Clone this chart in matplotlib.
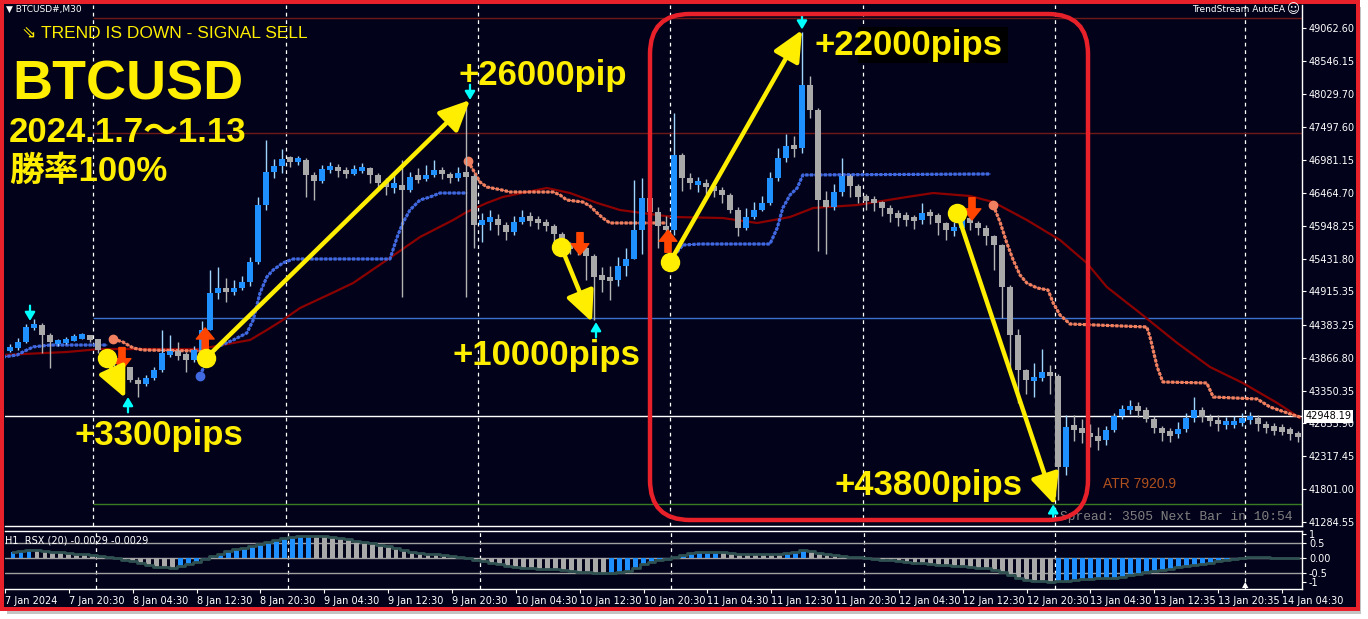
import numpy as np
import matplotlib
matplotlib.use('Agg')
import matplotlib.pyplot as plt
from matplotlib.patches import Rectangle, FancyBboxPatch

plt.rcParams['font.family'] = ['DejaVu Sans', 'Noto Sans CJK JP']

W, H = 1368, 619
BG = '#02031a'
YEL = '#ffee00'
BOLD = ['Liberation Sans', 'Noto Sans CJK JP', 'DejaVu Sans']

# hourly bars, x = hours after 7 Jan 20:30 (first bar at -7)
hours = np.arange(-7, 155)
closes = [44020, 44120, 44350, 44390, 44230, 44120, 44120, 44150, 44200, 44210,
          44160, 43990, 43870, 43770, 43720, 43520, 43460, 43550, 43680, 43940,
          43940, 43930, 43830, 43990, 44310, 44890, 44970, 44900, 44970, 45060,
          45380, 46280, 46800, 46890, 47000, 46980, 46980, 46750, 46650, 46840,
          46870, 46810, 46780, 46830, 46860, 46750, 46620, 46570, 46590, 46510,
          46720, 46690, 46750, 46830, 46760, 46700, 46780, 46730, 45960, 46040,
          46050, 45960, 45850, 46010, 46090, 46040, 46010, 45950, 45820, 45630,
          45610, 45600, 45470, 45140, 45130, 45090, 45310, 45430, 45880, 46390,
          46170, 45940, 45880, 47060, 46700, 46620, 46620, 46560, 46510, 46430,
          46200, 45910, 46090, 46200, 46310, 46700, 47020, 47200, 47170, 48160,
          47770, 46350, 46240, 46480, 46730, 46570, 46400, 46350, 46320, 46230,
          46130, 46090, 46070, 46040, 46150, 46120, 45990, 45880, 45910, 46070,
          45990, 45910, 45790, 45650, 44980, 44230, 43680, 43520, 43550, 43640,
          43580, 42150, 42780, 42760, 42680, 42620, 42570, 42730, 42950, 43060,
          43090, 43050, 42900, 42760, 42680, 42670, 42750, 42920, 43050, 42940,
          42870, 42840, 42840, 42840, 42920, 42920, 42830, 42760, 42750, 42730,
          42680, 42620]
highs = [44080, 44180, 44400, 44480, 44420, 44260, 44170, 44200, 44250, 44260,
         44230, 44170, 44000, 43880, 43790, 43730, 43560, 43600, 43720, 44300,
         44220, 44120, 43960, 44060, 44450, 45250, 45300, 45120, 45100, 45150,
         45450, 46400, 47300, 47000, 47150, 47050, 47050, 47020, 46800, 46900,
         46960, 46920, 46880, 46900, 46940, 46880, 46780, 46700, 46800, 46990,
         46800, 46860, 46900, 46980, 46880, 46800, 46870, 47900, 46760, 46150,
         46200, 46130, 46000, 46100, 46200, 46160, 46100, 46060, 45980, 45850,
         45700, 45750, 45660, 45500, 45300, 45320, 45450, 45600, 46670, 46700,
         46450, 46250, 46100, 47720, 47100, 46780, 46720, 46680, 46650, 46560,
         46460, 46250, 46230, 46330, 46420, 46800, 47180, 47400, 47360, 49000,
         48300, 47800, 46500, 46600, 47020, 46760, 46600, 46450, 46420, 46340,
         46280, 46200, 46160, 46120, 46300, 46220, 46150, 46000, 46000, 46180,
         46100, 46020, 45960, 45800, 45660, 45020, 44330, 43700, 43780, 44000,
         43760, 43620, 42960, 42960, 42900, 42820, 42780, 42800, 43000, 43130,
         43200, 43180, 43100, 42950, 42800, 42760, 42850, 43000, 43250, 43100,
         42980, 42960, 42930, 42950, 43000, 43020, 42960, 42880, 42840, 42820,
         42780, 42720]
lows = [43960, 43990, 44100, 44300, 43950, 43710, 44060, 44090, 44130, 44170,
        44120, 43950, 43820, 43700, 43600, 43480, 43250, 43420, 43520, 43650,
        43880, 43840, 43650, 43800, 43970, 44300, 44800, 44750, 44850, 44930,
        45000, 45340, 46200, 46700, 46780, 46870, 46900, 46400, 46350, 46620,
        46780, 46720, 46700, 46740, 46780, 46620, 46500, 46440, 46470, 44830,
        46480, 46620, 46650, 46720, 46680, 46620, 46660, 44830, 45600, 45700,
        45880, 45800, 45720, 45800, 45980, 45950, 45900, 45860, 45700, 45560,
        45500, 45480, 45100, 44460, 44900, 44780, 45000, 45150, 45420, 45500,
        44840, 45600, 45560, 45800, 46500, 46520, 46480, 46450, 46400, 46300,
        46150, 45780, 45880, 46050, 46180, 46280, 46650, 46950, 47030, 47100,
        47650, 45550, 45500, 46200, 46420, 46400, 46300, 46200, 46180, 46100,
        46000, 45950, 45950, 45900, 45980, 45980, 45800, 45720, 45780, 45860,
        45880, 45800, 45650, 45250, 44500, 43600, 43160, 43300, 43250, 43500,
        43300, 41630, 42020, 42560, 42520, 42460, 42420, 42500, 42700, 42900,
        42980, 42940, 42850, 42680, 42560, 42550, 42600, 42700, 42860, 42850,
        42800, 42720, 42740, 42760, 42800, 42830, 42720, 42680, 42660, 42650,
        42580, 42550]
first_open = 44000

# RSX(20) on H1
rsx = [0.20, 0.24, 0.27, 0.26, 0.23, 0.21, 0.19, 0.16, 0.14, 0.12,
       0.11, 0.08, 0.04, 0.00, -0.05, -0.10, -0.17, -0.24, -0.30, -0.31,
       -0.32, -0.27, -0.20, -0.12, -0.04, 0.06, 0.14, 0.24, 0.30, 0.35,
       0.40, 0.47, 0.54, 0.60, 0.66, 0.70, 0.73, 0.74, 0.74, 0.72,
       0.69, 0.66, 0.62, 0.58, 0.54, 0.49, 0.45, 0.39, 0.33, 0.27,
       0.21, 0.18, 0.15, 0.13, 0.11, 0.08, 0.04, 0.00, -0.06, -0.11,
       -0.16, -0.21, -0.26, -0.31, -0.33, -0.34, -0.35, -0.37, -0.38, -0.40,
       -0.43, -0.46, -0.48, -0.50, -0.51, -0.50, -0.48, -0.42, -0.32, -0.21,
       -0.14, -0.08, -0.02, 0.05, 0.11, 0.16, 0.19, 0.20, 0.21, 0.21,
       0.18, 0.14, 0.12, 0.12, 0.12, 0.12, 0.12, 0.16, 0.21, 0.27,
       0.22, 0.17, 0.15, 0.11, 0.08, 0.05, 0.02, 0.00, -0.02, -0.05,
       -0.08, -0.10, -0.12, -0.15, -0.17, -0.19, -0.22, -0.24, -0.26, -0.28,
       -0.30, -0.32, -0.34, -0.39, -0.47, -0.56, -0.65, -0.74, -0.77, -0.78,
       -0.79, -0.78, -0.76, -0.73, -0.71, -0.70, -0.68, -0.67, -0.65, -0.62,
       -0.58, -0.53, -0.48, -0.44, -0.40, -0.36, -0.31, -0.27, -0.22, -0.19,
       -0.15, -0.11, -0.07, -0.04, 0.00, 0.02, 0.02, 0.02, 0.01, 0.01,
       0.01, 0.01]

# slow moving average (dark red)
ma_h = [-7.9, 0.1, 4.25, 8.4, 16.75, 20.9, 23, 25.1, 27.1, 29.25, 33, 35.9, 40.1,
        44.25, 48.4, 50.1, 52.6, 54.6, 57.6, 60.1, 63, 66.4, 69.25, 73, 75.9,
        82.1, 86.4, 90.5, 93.4, 98.9, 105.1, 108.4, 113, 115.9, 120.1, 124.25,
        127.6, 130.1, 134.25, 138.9, 143, 147.1, 151.4, 154.25]
ma_p = [43913, 43960, 44007, 44007, 44007, 44102, 44149, 44306, 44464, 44653,
        44873, 45047, 45409, 45771, 46039, 46165, 46307, 46401, 46480, 46543,
        46464, 46307, 46196, 46133, 46086, 46070, 45992, 46086, 46228, 46275,
        46401, 46464, 46417, 46322, 46039, 45724, 45362, 44984, 44574, 44102,
        43724, 43472, 43157, 42920]

# trailing stop, long side (blue dots)
up_stops = [
    ([-7.9, -6.1, -5.4, -4.1, -2, 5.1],
     [43881, 43913, 43960, 44040, 44070, 44070]),
    ([16.75, 17.6, 18.9, 20.9, 22.6, 23.4, 24.25, 25.1, 25.9, 27.1, 28.4, 40.5,
      41.4, 42.1, 43, 44.25, 45.5, 46.75, 50.1],
     [43585, 43834, 44040, 44149, 44259, 44464, 44889, 45142, 45252, 45362,
      45425, 45425, 45771, 45992, 46197, 46354, 46401, 46464, 46464]),
    ([76.4, 77.1, 79.25, 88, 88.9, 89.6, 90.5, 91.4, 92.1, 115.5],
     [45535, 45645, 45661, 45661, 45913, 46228, 46433, 46543, 46748, 46764]),
]
# trailing stop, short side (salmon dots)
dn_stops = [
    ([5.9, 7.1, 8.4, 9.6, 16.75, 17.4],
     [44165, 44118, 44023, 43992, 43976, 43976]),
    ([50.25, 50.9, 51.75, 52.6, 54.5, 55.5, 60.9, 61.75, 62.6, 64.6, 65.5, 66.4,
      67.1, 68, 74.9],
     [46968, 46826, 46637, 46559, 46511, 46480, 46480, 46433, 46354, 46322,
      46259, 46149, 46070, 45992, 45992]),
    ([115.9, 116.75, 117.6, 118.4, 119.25, 120.1, 121.4, 122.75, 123.4, 124.25,
      125.5, 135.1, 135.5, 136.4, 137.1, 142.6, 143.4, 148.9, 150.5, 153.4, 154.25],
     [46275, 46008, 45677, 45409, 45173, 45047, 44968, 44937, 44732, 44543,
      44401, 44354, 44196, 43724, 43488, 43472, 43251, 43220, 43094, 42968, 42936]),
]

# level lines
level_p = [49220, 47409, 44495, 41566]
level_c = ['#6e1818', '#6e1818', '#3b6fd0', '#3a7a22']
last_price = 42948.19
day_sep = [3.4, 27.5, 51.5, 75.5, 99.6, 123.6, 147.4]

price_ticks = [49062.60, 48546.15, 48029.70, 47497.60, 46981.15, 46464.70,
               45948.25, 45431.80, 44915.35, 44383.25, 43866.80, 43350.35,
               42833.90, 42317.45, 41801.00, 41284.55]
time_ticks = [-8 + 8 * i for i in range(21)]
time_labels = ['7 Jan 2024', '7 Jan 20:30', '8 Jan 04:30', '8 Jan 12:30',
               '8 Jan 20:30', '9 Jan 04:30', '9 Jan 12:30', '9 Jan 20:30',
               '10 Jan 04:30', '10 Jan 12:30', '10 Jan 20:30', '11 Jan 04:30',
               '11 Jan 12:30', '11 Jan 20:30', '12 Jan 04:30', '12 Jan 12:30',
               '12 Jan 20:30', '13 Jan 04:30', '13 Jan 12:35', '13 Jan 20:35',
               '14 Jan 04:30']

# signal arrows, tip position (hour, price)
cyan_down = [(-4.5, 44450), (50.5, 47930), (92, 49040)]
cyan_up = [(7.75, 43250), (66.25, 44430), (123.4, 41560)]
red_up = [(17.4, 44340), (75.25, 45880)]
red_down = [(7, 43680), (64.25, 45490), (113.25, 46040)]

# trades: entry point -> exit point, with result text
entries = [(5.1, 43865), (17.5, 43865), (61.9, 45614), (75.5, 45378), (111.4, 46149)]
exits = [(7.4, 43236), (50.5, 47929), (65.75, 44432), (92, 49031), (123.6, 41550)]
results = ['+3300pips', '+26000pip', '+10000pips', '+22000pips', '+43800pips']
result_px = [(75, 436), (458, 76), (452, 355), (815, 45), (835, 486)]


fig = plt.figure(figsize=(W / 100, H / 100), dpi=100)
fig.patch.set_facecolor('white')

# frame, shadow and background in pixel coords
bg = fig.add_axes([0, 0, 1, 1], zorder=0)
bg.set_xlim(0, W)
bg.set_ylim(H, 0)
bg.axis('off')
bg.add_patch(Rectangle((7, 7), 1354, 607, color='#c4c4c4', lw=0))
bg.add_patch(Rectangle((0, 0), 1360, 611, color='#e8202a', lw=0))
bg.add_patch(Rectangle((4, 4), 1352, 603, color=BG, lw=0))

x0, x1 = -7.625, 154.5
ax = fig.add_axes([5 / W, 1 - 526 / H, 1297 / W, 521 / H], zorder=1)
ax.set_facecolor(BG)
ax.set_xlim(x0, x1)
ax.set_ylim(41219.5, 49425.25)

ax2 = fig.add_axes([5 / W, 1 - 589 / H, 1297 / W, 58 / H], zorder=1)
ax2.set_facecolor(BG)
ax2.set_xlim(x0, x1)
ax2.set_ylim(-1.033, 0.9)

for a in (ax, ax2):
    a.spines['left'].set_visible(False)
    for s in ('top', 'right', 'bottom'):
        a.spines[s].set_color('white')
        a.spines[s].set_linewidth(1)
    a.yaxis.tick_right()
    a.tick_params(axis='y', colors='white', labelsize=7, length=3, pad=2)
    for xs in day_sep:
        a.axvline(xs, color='white', lw=0.9, ls=(0, (3, 3)), zorder=1)
ax.spines['top'].set_visible(False)

ax.set_xticks([])
ax.set_yticks(price_ticks)
ax.set_yticklabels(['%.2f' % p for p in price_ticks])

# level lines
ax.hlines(level_p, day_sep[0], x1, colors=level_c, lw=1, zorder=1)
ax.axhline(last_price, color='white', lw=1, zorder=1)
ax.text(1.003, last_price, '%.2f' % last_price, transform=ax.get_yaxis_transform(),
        ha='left', va='center', fontsize=7, color='black',
        bbox=dict(boxstyle='square,pad=0.15', fc='white', ec='none'), clip_on=False, zorder=10)

# moving average
ax.plot(ma_h, ma_p, color='#8b0000', lw=1.6, zorder=2)

# trailing stops as square dots
for hs, ps in up_stops:
    ax.plot(hs, ps, color='#4169e1', lw=0.8, zorder=3)
    ax.plot(hs, ps, color='#4169e1', lw=2.3, ls=(0, (1, 0.45)), zorder=3)
ax.plot(up_stops[1][0][0], up_stops[1][1][0], 'o', color='#4169e1', ms=6, zorder=3)
for hs, ps in dn_stops:
    ax.plot(hs, ps, color='#f08060', lw=0.8, zorder=3)
    ax.plot(hs, ps, color='#f08060', lw=2.3, ls=(0, (1, 0.45)), zorder=3)
    ax.plot(hs[0], ps[0], 'o', color='#f08060', ms=6, zorder=3)

# candles
opens = np.array([first_open] + closes[:-1])
closes_a = np.array(closes)
up = closes_a >= opens
body_col = np.where(up, '#1e90ff', '#a9a9a9')
wick_col = np.where(up, '#9fd4ff', '#b4b4b4')
ax.vlines(hours, lows, highs, colors=wick_col, lw=1, zorder=4)
heights = np.maximum(np.abs(closes_a - opens), 70)
bottoms = (opens + closes_a) / 2 - heights / 2
ax.bar(hours, heights, bottom=bottoms, width=0.78, color=body_col, lw=0, zorder=5)

# signal arrows
for h, p in cyan_down:
    ax.annotate('', xy=(h, p), xytext=(0, 11), textcoords='offset points', zorder=6,
                arrowprops=dict(arrowstyle='-|>,head_length=0.5,head_width=0.3',
                                color='#00ffff', lw=1.6, mutation_scale=10, shrinkA=0, shrinkB=0))
for h, p in cyan_up:
    ax.annotate('', xy=(h, p), xytext=(0, -11), textcoords='offset points', zorder=6,
                arrowprops=dict(arrowstyle='-|>,head_length=0.5,head_width=0.3',
                                color='#00ffff', lw=1.6, mutation_scale=10, shrinkA=0, shrinkB=0))
for h, p in red_up:
    ax.annotate('', xy=(h, p), xytext=(0, -16), textcoords='offset points', zorder=6,
                arrowprops=dict(arrowstyle='simple,head_length=0.5,head_width=0.8,tail_width=0.28',
                                color='#ff4500', mutation_scale=16, shrinkA=0, shrinkB=0))
for h, p in red_down:
    ax.annotate('', xy=(h, p), xytext=(0, 16), textcoords='offset points', zorder=6,
                arrowprops=dict(arrowstyle='simple,head_length=0.5,head_width=0.8,tail_width=0.28',
                                color='#ff4500', mutation_scale=16, shrinkA=0, shrinkB=0))

# trade arrows
for (eh, ep), (xh, xp) in zip(entries, exits):
    ax.annotate('', xy=(xh, xp), xytext=(eh, ep), zorder=7,
                arrowprops=dict(arrowstyle='-|>,head_length=0.6,head_width=0.28',
                                color=YEL, lw=3.2, mutation_scale=31, shrinkA=0, shrinkB=0))
ax.plot([e[0] for e in entries], [e[1] for e in entries], 'o', color=YEL, ms=13, zorder=8)

# RSX histogram
rsx_a = np.array(rsx)
rising = np.concatenate([[True], rsx_a[1:] > rsx_a[:-1]])
ax2.bar(hours, rsx_a, width=0.6, color=np.where(rising, '#1e90ff', '#a9a9a9'), lw=0, zorder=2)
ax2.step(hours, rsx_a, where='mid', color='#2f5050', lw=2, zorder=3)
ax2.axhline(0.5, color='#a0a0a0', lw=1, zorder=1)
ax2.axhline(0.0, color='#a0a0a0', lw=1, zorder=1)
ax2.axhline(-0.5, color='#a0a0a0', lw=1, zorder=1)
ax2.set_yticks([0.8, 0.5, 0.0, -0.5, -0.8])
ax2.set_yticklabels(['1', '0.5', '0.00', '-0.5', '-1'])
ax2.set_xticks(time_ticks)
ax2.set_xticklabels(time_labels, ha='left')
ax2.tick_params(axis='x', colors='white', labelsize=7, length=3, pad=2)
ax2.text(0.0, 0.92, 'H1  RSX (20) -0.0029 -0.0029', transform=ax2.transAxes,
         color='white', fontsize=7, ha='left', va='top')
ax2.text(147.4, -1.03, '▲', color='white', fontsize=6, ha='center', va='bottom')

# overlay: annotations in pixel coords
ov = fig.add_axes([0, 0, 1, 1], zorder=5)
ov.set_xlim(0, W)
ov.set_ylim(H, 0)
ov.axis('off')
ov.patch.set_alpha(0)

ov.add_patch(Rectangle((858, 27), 150, 36, color='black', lw=0))
for txt, (px, py) in zip(results, result_px):
    ov.text(px, py, txt, color=YEL, fontsize=25, fontweight='bold', family=BOLD,
            ha='left', va='center')
ov.add_patch(FancyBboxPatch((650, 14), 438, 506, boxstyle='round,pad=0,rounding_size=40',
                            fc='none', ec='#e8202a', lw=3.2))

ov.text(12, 85, 'BTCUSD', color=YEL, fontsize=40, fontweight='bold', family=BOLD,
        ha='left', va='center')
ov.text(9, 132, '2024.1.7～1.13', color=YEL, fontsize=25, fontweight='bold', family=BOLD,
        ha='left', va='center')
ov.text(9, 171, '勝率100%', color=YEL, fontsize=25, fontweight='bold', family=BOLD,
        ha='left', va='center')
ov.text(22, 33, '⇘ TREND IS DOWN - SIGNAL SELL', color=YEL, fontsize=12.5,
        family=['Liberation Sans', 'DejaVu Sans'], ha='left', va='center')
ov.text(6, 9, '▼ BTCUSD#,M30', color='white', fontsize=6.5, ha='left', va='center')
ov.text(1285, 10, 'TrendStream AutoEA', color='white', fontsize=6.5, ha='right', va='center')
ov.text(1293, 10, '☺', color='white', fontsize=9, ha='center', va='center')
ov.text(1103, 484, 'ATR 7920.9', color='#b0501e', fontsize=10, family=['Liberation Sans'],
        ha='left', va='center')
ov.text(1060, 517, 'Spread: 3505 Next Bar in 10:54', color='#808080', fontsize=9.3,
        family=['Liberation Mono'], ha='left', va='center', zorder=0)

fig.savefig('out.png', dpi=100, facecolor=fig.get_facecolor())
